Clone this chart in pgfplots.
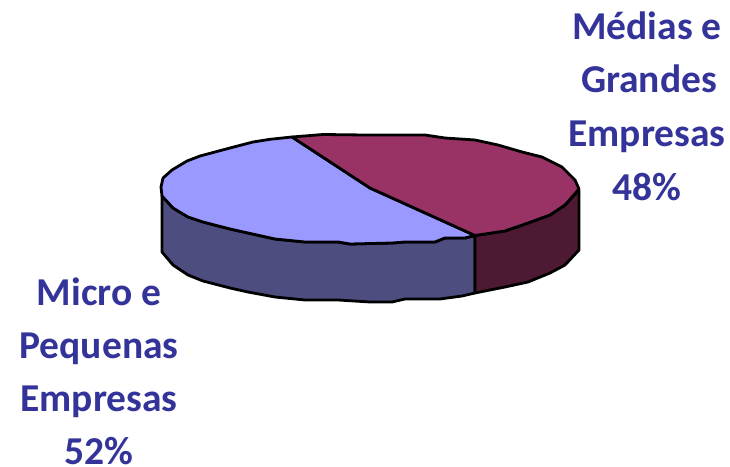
\documentclass[border=0pt]{standalone}
\usepackage{pgfplots}
\pgfplotsset{compat=1.18}
\usepackage{fontspec}
\setmainfont{Carlito}
\definecolor{lab}{HTML}{333399}
\definecolor{topb}{HTML}{9999FF}
\definecolor{topm}{HTML}{993366}
\definecolor{sideb}{HTML}{4D4D80}
\definecolor{sidem}{HTML}{4D1933}
\begin{document}
\begin{tikzpicture}
\path[use as bounding box] (0,0) rectangle (730bp,467bp);
\begin{axis}[at={(0,0)},anchor=south west,scale only axis,width=730bp,height=467bp,xmin=0,xmax=730,ymin=0,ymax=467,y dir=reverse,axis lines=none,clip=false]
% sides
\addplot[draw=black,line width=2.8bp,line join=round,fill=sideb] coordinates {(162,196)(173,208)(188,217)(203,222)(230,229)(248,233)(275,239)(305,242)(338,242)(350,244)(392,243)(405,242)(435,242)(445,238)(465,238)(475,235.5)(475,293)(462,296)(440,299)(405,299)(392,302)(370,302)(338,300)(305,300)(275,297)(248,292)(230,288)(203,281)(188,275)(173,265)(162,252)} -- cycle;
\addplot[draw=black,line width=2.8bp,line join=round,fill=sidem] coordinates {(475,235.5)(505,231)(528,223)(550,215)(565,205)(579,190)(579,250)(565,265)(550,273)(528,282)(505,287)(475,293)} -- cycle;
% top
\addplot[draw=black,line width=2.8bp,line join=round,fill=topb] coordinates {(370,188)(292,137)(270,139.3)(253,142)(230,148)(200,156)(187,161)(172,170)(163,178)(161,187)(162,196)(173,208)(188,217)(203,222)(230,229)(248,233)(275,239)(305,242)(338,242)(350,244)(392,243)(405,242)(435,242)(445,238)(465,238)(475,235.5)} -- cycle;
\addplot[draw=black,line width=2.8bp,line join=round,fill=topm] coordinates {(370,188)(292,137)(323,134.5)(365,135)(425,135)(445,138)(475,140)(498,145)(522,152)(542,157)(562,167)(575,180)(579,189)(565,205)(550,215)(528,223)(505,231)(475,235.5)} -- cycle;
\tikzset{lb/.style={text=lab,font=\fontsize{39.5bp}{39.5bp}\selectfont\bfseries,inner sep=0pt,anchor=base}}
\node[lb] at (axis cs:647,40) {Médias e};
\node[lb] at (axis cs:649,93) {Grandes};
\node[lb] at (axis cs:647,146) {Empresas};
\node[lb] at (axis cs:647,200) {48\%};
\node[lb] at (axis cs:99,305) {Micro e};
\node[lb] at (axis cs:99,358) {Pequenas};
\node[lb] at (axis cs:99,411) {Empresas};
\node[lb] at (axis cs:99,464) {52\%};
\end{axis}
\end{tikzpicture}
\end{document}
